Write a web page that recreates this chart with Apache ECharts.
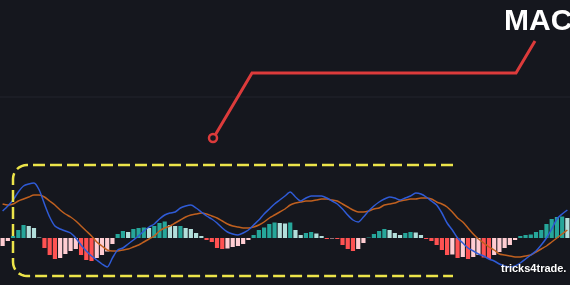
<!DOCTYPE html>
<html>
<head>
<meta charset="utf-8">
<script src="https://cdn.jsdelivr.net/npm/echarts@6/dist/echarts.min.js"></script>
<style>
html,body{margin:0;padding:0;background:#15171e;}
#chart{width:570px;height:285px;}
</style>
</head>
<body>
<div id="chart"></div>
<script>
// Histogram values (MACD - signal), one per bar
var histogram = [
  -8, -3, 2, 8, 13, 12, 10, 0.5, -10, -17,
  -21, -20, -16, -13, -11, -17, -22, -23, -20, -17,
  -13.5, -6, 4, 7, 6, 9, 10, 10.5, 10, 12,
  15, 16.5, 13, 12, 12, 10, 9, 5, 2, -2,
  -4, -10, -11, -10.5, -9, -8, -6, -2, 3, 8,
  10.5, 14, 15.5, 15, 14.5, 15.5, 8, 3, 5, 6,
  4.5, 2, -1, -0.5, -1, -7, -11, -13, -11, -5,
  0.5, 4, 7, 9, 8, 5, 3, 5, 6, 5.5,
  3, -1, -3, -7, -12, -17, -16.5, -20, -19, -21,
  -19, -17, -19.5, -21, -17, -14, -10, -7, -2, 2,
  3, 3.5, 6, 8, 14, 19, 21, 21.5, 20
];
// MACD line (blue)
var macdLine = [
  27, 32, 38, 46, 52, 54, 55, 48, 34, 21,
  12, 9, 7, 5, 0, -7, -13, -18, -22, -26,
  -29, -20, -12, -10, -6, -2, 2, 7, 11, 14,
  19, 23, 25, 26, 30, 32, 33, 30, 26, 22,
  19, 15, 10, 6, 4, 3, 5, 8, 13, 18,
  24, 29, 34, 38, 42, 46, 41, 37, 40, 42,
  42, 42, 40, 37, 34, 29, 23, 18, 16, 21,
  27, 32, 36, 39, 41, 40, 38, 40, 42, 45,
  44, 41, 37, 33, 25, 15, 8, 0, -5, -10,
  -13, -16, -18, -21, -23, -26, -28, -29, -28, -25,
  -21, -17, -13, -7, 0, 9, 19, 24, 28
];
// Signal line (orange)
var signalLine = [
  34, 33, 34, 37, 39, 41, 43, 43, 41, 37,
  33, 28, 24, 21, 17, 12, 7, 2, -4, -8,
  -12, -13, -13, -12, -11, -9, -7, -4, -1, 2,
  7, 10, 12, 15, 18, 21, 23, 24, 25, 24,
  22, 20, 17, 14, 12, 11, 10, 10, 11, 13,
  16, 20, 23, 26, 29, 33, 35, 36, 37, 37,
  38, 39, 39, 38, 37, 34, 31, 28, 26, 26,
  27, 29, 30, 33, 34, 35, 37, 38, 39, 39,
  40, 40, 39, 36, 34, 31, 26, 20, 16, 10,
  4, -1, -5, -9, -12, -16, -17, -18, -19, -19,
  -18, -17, -14, -11, -8, -4, 0, 4, 8
];
var categories = histogram.map(function (_, i) { return String(i + 1); });

var TEAL = '#26a69a', TEAL_LIGHT = '#b2dfdb', RED = '#ff5252', PINK = '#ffcdd2';
var barData = histogram.map(function (v, i) {
  var prev = i > 0 ? histogram[i - 1] : v;
  var c;
  if (v >= 0) c = v >= prev ? TEAL : TEAL_LIGHT;
  else c = v < prev ? RED : PINK;
  if (i === 0) c = v >= 0 ? TEAL : PINK;
  return { value: v, itemStyle: { color: c } };
});

// Rounded-corner open frame (decoration)
function framePoints() {
  var pts = [[453, 165]];
  var r = 14, k;
  for (k = 0; k <= 8; k++) {
    var a = -Math.PI / 2 - (Math.PI / 2) * k / 8;
    pts.push([13 + r + r * Math.cos(a), 165 + r + r * Math.sin(a)]);
  }
  for (k = 0; k <= 8; k++) {
    var b = Math.PI - (Math.PI / 2) * k / 8;
    pts.push([13 + r + r * Math.cos(b), 276 - r + r * Math.sin(b)]);
  }
  pts.push([453, 276]);
  return pts;
}

var chart = echarts.init(document.getElementById('chart'), null, { renderer: 'canvas' });
chart.setOption({
  backgroundColor: '#15171e',
  animation: false,
  grid: { left: 0, right: 0, top: 0, bottom: 0 },
  xAxis: {
    type: 'category', data: categories, boundaryGap: true,
    axisLine: { show: false }, axisTick: { show: false }, axisLabel: { show: false }, splitLine: { show: false }
  },
  yAxis: {
    type: 'value', min: -47, max: 238,
    axisLine: { show: false }, axisTick: { show: false }, axisLabel: { show: false }, splitLine: { show: false }
  },
  series: [
    {
      type: 'bar', data: barData, barCategoryGap: '20%', z: 2
    },
    {
      type: 'line', data: signalLine, symbol: 'none', smooth: 0.25, z: 3,
      lineStyle: { color: '#c0601f', width: 1.5 }
    },
    {
      type: 'line', data: macdLine, symbol: 'none', smooth: 0.25, z: 4,
      lineStyle: { color: '#2f5bd6', width: 1.5 }
    }
  ],
  graphic: [
    { type: 'line', z: 1, shape: { x1: 0, y1: 97, x2: 570, y2: 97 },
      style: { stroke: '#22242c', lineWidth: 1 } },
    { type: 'polyline', z: 10,
      shape: { points: framePoints() },
      style: { fill: null, stroke: '#ece44a', lineWidth: 2.5, lineDash: [12, 5] } },
    { type: 'polyline', z: 10,
      shape: { points: [[215.5, 134.5], [252, 73], [516, 73], [535, 41]] },
      style: { fill: null, stroke: '#dc3b3b', lineWidth: 3 } },
    { type: 'circle', z: 11, shape: { cx: 213, cy: 138, r: 4 },
      style: { fill: '#15171e', stroke: '#dc3b3b', lineWidth: 2.5 } },
    { type: 'text', z: 12, left: 504, top: 7,
      style: { text: 'MAC', fill: '#ffffff', font: 'bold 30px "Liberation Sans", Arial, sans-serif' } },
    { type: 'text', z: 12, left: 501, top: 263,
      style: { text: 'tricks4trade.', fill: '#ffffff', font: 'bold 11px "Liberation Sans", Arial, sans-serif',
        textShadowColor: 'rgba(0,0,0,0.7)', textShadowBlur: 2 } }
  ]
});
</script>
</body>
</html>
